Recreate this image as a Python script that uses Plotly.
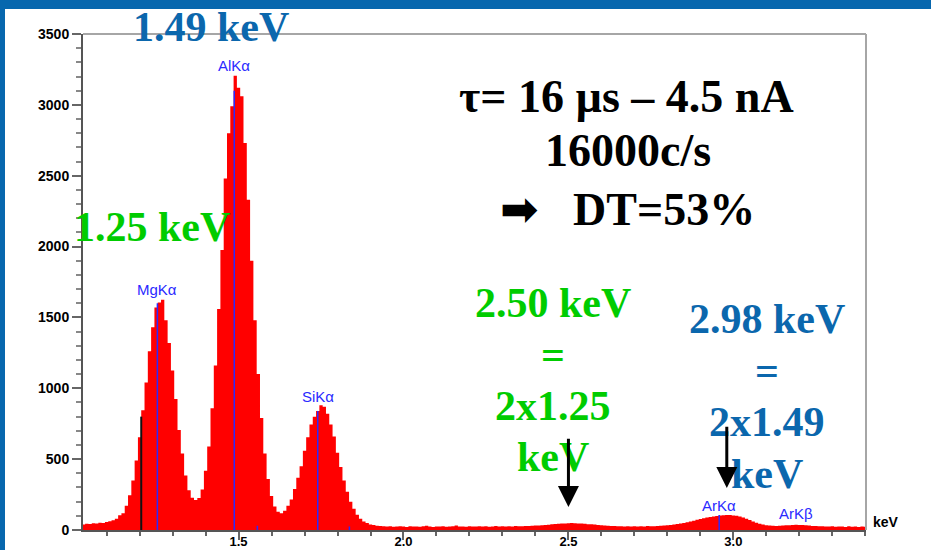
import plotly.graph_objects as go

# EDS spectrum: counts per 10 eV channel, first channel centred on 1.03 keV
channel_start_kev = 1.03
channel_width_kev = 0.01
counts = [
    38, 44, 42, 47, 45, 52, 50,                                   # 1.03-1.09
    57, 62, 68, 80, 104, 118, 172, 245, 350, 490,                 # 1.10-1.19
    655, 845, 1040, 1262, 1430, 1570, 1605, 1625, 1480, 1320,     # 1.20-1.29
    1125, 925, 705, 540, 385, 280, 228, 212, 226, 285,            # 1.30-1.39
    418, 590, 860, 1160, 1560, 1975, 2480, 2800, 2990, 3205,      # 1.40-1.49
    3120, 3060, 2730, 2330, 1900, 1480, 1100, 790, 540, 360,      # 1.50-1.59
    240, 165, 128, 118, 135, 172, 215, 290, 368, 450,             # 1.60-1.69
    560, 655, 745, 800, 840, 880, 870, 820, 745, 660,             # 1.70-1.79
    545, 445, 350, 270, 200, 150, 108, 80, 60, 50,                # 1.80-1.89
    38, 36, 30, 28, 26, 24, 27, 23, 25, 26,                       # 1.90-1.99
    24, 22, 27, 24, 25, 23, 26, 30, 24, 22,                       # 2.00-2.09
    25, 24, 27, 23, 25, 26, 31, 24, 25, 23,                       # 2.10-2.19
    26, 24, 25, 27, 24, 26, 23, 25, 28, 24,                       # 2.20-2.29
    26, 25, 27, 25, 28, 26, 27, 29, 28, 30,                       # 2.30-2.39
    31, 32, 34, 36, 37, 40, 42, 44, 45, 46,                       # 2.40-2.49
    47, 50, 47, 46, 45, 44, 41, 40, 38, 35,                       # 2.50-2.59
    33, 32, 30, 28, 29, 27, 26, 25, 27, 24,                       # 2.60-2.69
    26, 25, 27, 24, 28, 26, 27, 29, 30, 32,                       # 2.70-2.79
    33, 36, 38, 42, 45, 50, 55, 60, 66, 72,                       # 2.80-2.89
    78, 83, 88, 92, 96, 99, 102, 104, 106, 105,                   # 2.90-2.99
    103, 100, 95, 88, 80, 70, 60, 51, 44, 38,                     # 3.00-3.09
    34, 31, 30, 29, 30, 31, 33, 34, 36, 37,                       # 3.10-3.19
    36, 35, 33, 31, 29, 28, 26, 27, 25, 24,                       # 3.20-3.29
    26, 23, 25, 24, 22, 26, 23, 24, 22, 25,                       # 3.30-3.39
    23,                                                           # 3.40
]

# KLM line markers
line_names = ["MgKα", "AlKα", "SiKα", "ArKα", "ArKβ"]
line_energies = [1.254, 1.487, 1.740, 2.957, 3.190]
line_heights = [1600, 3100, 840, 105, 0]
minor_line_energies = [1.557, 1.836]
minor_line_heights = [30, 25]

# Cursor marker
cursor_energy = 1.205
cursor_height = 800

# Sum peaks (2 x MgKα, 2 x AlKα)
sum_peak_energies = [2.50, 2.98]
sum_peak_tips = [162, 296]
sum_peak_tails = [655, 740]

BLUE_TEXT = "#0b67ad"
GREEN_TEXT = "#00cc00"
MARKER_BLUE = "#2a2aff"
SERIF = "Liberation Serif, Times New Roman, DejaVu Serif, DejaVu Sans"
SANS = "Liberation Sans, Arial, DejaVu Sans"

# plot area inside the 931x550 page
L, R, T, B = 83, 866, 34, 530


def pxx(x):
    return (x - L) / (R - L)


def pxy(y):
    return (B - y) / (B - T)


# closed histogram outline: each channel spans +/- half a channel around its centre
half = channel_width_kev / 2
step_x, step_y = [], []
for i, c in enumerate(counts):
    centre = channel_start_kev + i * channel_width_kev
    step_x += [centre - half, centre + half]
    step_y += [c, c]
first_edge = channel_start_kev - half
last_edge = channel_start_kev + (len(counts) - 1) * channel_width_kev + half
poly_x = [first_edge] + step_x + [last_edge, first_edge]
poly_y = [0] + step_y + [0, 0]

fig = go.Figure()

fig.add_trace(go.Scatter(
    x=poly_x, y=poly_y, mode="lines",
    line=dict(color="#ff0000", width=0, simplify=False),
    fill="toself", fillcolor="#ff0000", hoverinfo="skip", showlegend=False,
))

# cursor line
fig.add_trace(go.Scatter(
    x=[cursor_energy, cursor_energy], y=[0, cursor_height], mode="lines",
    line=dict(color="#111111", width=2), hoverinfo="skip", showlegend=False,
))

# element line markers
lx, ly = [], []
for e, h in zip(line_energies + minor_line_energies, line_heights + minor_line_heights):
    if h > 0:
        lx += [e, e, None]
        ly += [0, h, None]
fig.add_trace(go.Scatter(
    x=lx, y=ly, mode="lines", line=dict(color=MARKER_BLUE, width=1.5),
    hoverinfo="skip", showlegend=False,
))

annotations = []

# element labels
label_y = [1700, 3275, 945, 176, 113]
for name, e, y in zip(line_names, line_energies, label_y):
    annotations.append(dict(
        x=e, y=y, xref="x", yref="y", text=name, showarrow=False,
        xanchor="center", yanchor="middle",
        font=dict(family=SANS, size=15, color=MARKER_BLUE),
    ))


def big_text(text, x, y, color, size):
    annotations.append(dict(
        x=pxx(x), y=pxy(y), xref="paper", yref="paper", text="<b>" + text + "</b>",
        showarrow=False, xanchor="center", yanchor="middle",
        font=dict(family=SERIF, size=size, color=color),
    ))


big_text("1.49 keV", 211, 27, BLUE_TEXT, 42)
big_text("1.25 keV", 152, 227, GREEN_TEXT, 42)

big_text("τ= 16 µs – 4.5 nA", 626, 96, "black", 46)
big_text("16000c/s", 628, 151, "black", 46)
big_text("<span style='font-family:DejaVu Sans'>➡</span>&nbsp;&nbsp; DT=53%",
         627, 209, "black", 46)

for i, t in enumerate(["2.50 keV", "=", "2x1.25", "keV"]):
    big_text(t, 553, 303 + 51.5 * i, GREEN_TEXT, 42)
for i, t in enumerate(["2.98 keV", "=", "2x1.49", "keV"]):
    big_text(t, 767, 319 + 51.7 * i, BLUE_TEXT, 42)

# arrows pointing at the sum peaks
for e, tip, tail in zip(sum_peak_energies, sum_peak_tips, sum_peak_tails):
    annotations.append(dict(
        x=e, y=tip, ax=e, ay=tail, xref="x", yref="y", axref="x", ayref="y",
        text="", showarrow=True, arrowhead=2, arrowsize=1.4, arrowwidth=3,
        arrowcolor="black",
    ))

# axis unit
annotations.append(dict(
    x=pxx(886), y=pxy(522), xref="paper", yref="paper", text="<b>keV</b>",
    showarrow=False, xanchor="center", yanchor="middle",
    font=dict(family=SANS, size=14, color="black"),
))

shapes = [
    # frame top and right
    dict(type="line", xref="paper", yref="paper", x0=0, x1=1, y0=1, y1=1,
         line=dict(color="#a6a6a6", width=2)),
    dict(type="line", xref="paper", yref="paper", x0=1, x1=1, y0=0, y1=1,
         line=dict(color="#a6a6a6", width=2)),
    # slide border
    dict(type="rect", xref="paper", yref="paper", x0=pxx(0), x1=pxx(931),
         y0=pxy(9), y1=pxy(0), fillcolor="#0767ae", line=dict(width=0), layer="above"),
    dict(type="rect", xref="paper", yref="paper", x0=pxx(0), x1=pxx(5),
         y0=pxy(550), y1=pxy(0), fillcolor="#0767ae", line=dict(width=0), layer="above"),
]

fig.update_layout(
    width=931, height=550,
    margin=dict(l=L, r=931 - R, t=T, b=550 - B, pad=0),
    paper_bgcolor="white", plot_bgcolor="white",
    template="none", showlegend=False,
    annotations=annotations, shapes=shapes,
    xaxis=dict(
        range=[1.0285, 3.402], tick0=0, dtick=0.5, tickformat=".1f",
        ticks="outside", ticklen=8, tickwidth=1.5, tickcolor="#666666",
        ticklabelstandoff=-10,
        showline=True, linecolor="#555555", linewidth=2,
        showgrid=False, zeroline=False, automargin=False,
        minor=dict(dtick=0.1, tick0=0, ticks="outside", ticklen=4,
                   tickwidth=1.5, tickcolor="#666666", showgrid=False),
        tickfont=dict(family=SANS, size=13, color="black", weight="bold"),
    ),
    yaxis=dict(
        range=[0, 3500], tick0=0, dtick=500,
        ticks="outside", ticklen=9, tickwidth=1.5, tickcolor="#666666",
        showline=True, linecolor="#555555", linewidth=2,
        showgrid=False, zeroline=False, automargin=False,
        minor=dict(dtick=100, tick0=0, ticks="outside", ticklen=5,
                   tickwidth=1.5, tickcolor="#888888", showgrid=False),
        tickfont=dict(family=SANS, size=14, color="black", weight="bold"),
    ),
)

fig.write_html("out.html", config={"displayModeBar": False})
